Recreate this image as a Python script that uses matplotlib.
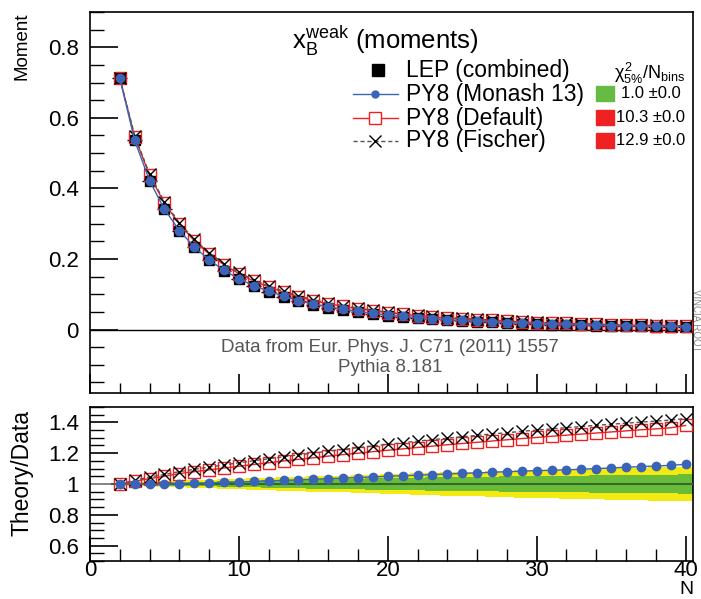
import numpy as np
import matplotlib
matplotlib.use("Agg")
import matplotlib.pyplot as plt
from matplotlib import font_manager
from matplotlib.lines import Line2D
from matplotlib.patches import Rectangle
from matplotlib.ticker import MultipleLocator

# --- data ---
n_vals = list(range(2, 41))

lep_moment = [0.713, 0.537, 0.422, 0.341, 0.280, 0.233, 0.196, 0.166, 0.142, 0.122,
              0.106, 0.092, 0.080, 0.070, 0.062, 0.055, 0.049, 0.044, 0.039, 0.035,
              0.032, 0.029, 0.026, 0.024, 0.022, 0.020, 0.018, 0.017, 0.015, 0.014,
              0.013, 0.012, 0.011, 0.010, 0.0095, 0.0088, 0.0082, 0.0076, 0.0071]

ratio_monash = [1.000, 0.998, 0.999, 1.000, 1.002, 1.004, 1.007, 1.010, 1.013, 1.017,
                1.020, 1.024, 1.027, 1.031, 1.035, 1.038, 1.042, 1.046, 1.050, 1.054,
                1.057, 1.061, 1.065, 1.069, 1.072, 1.076, 1.080, 1.083, 1.087, 1.089,
                1.092, 1.096, 1.100, 1.104, 1.109, 1.113, 1.117, 1.121, 1.128]

ratio_default = [1.000, 1.018, 1.035, 1.050, 1.068, 1.080, 1.092, 1.104, 1.115, 1.127,
                 1.138, 1.150, 1.160, 1.170, 1.181, 1.191, 1.200, 1.210, 1.219, 1.228,
                 1.237, 1.246, 1.255, 1.263, 1.271, 1.279, 1.287, 1.295, 1.302, 1.310,
                 1.317, 1.324, 1.331, 1.338, 1.345, 1.352, 1.358, 1.365, 1.380]

ratio_fischer = [1.000, 1.024, 1.045, 1.062, 1.080, 1.095, 1.110, 1.124, 1.138, 1.151,
                 1.164, 1.177, 1.189, 1.201, 1.213, 1.224, 1.236, 1.247, 1.257, 1.268,
                 1.278, 1.288, 1.297, 1.307, 1.316, 1.325, 1.333, 1.342, 1.350, 1.358,
                 1.366, 1.373, 1.381, 1.388, 1.395, 1.402, 1.408, 1.415, 1.425]

# half widths of the data uncertainty bands (ratio panel)
band_inner = [0.004, 0.006, 0.008, 0.010, 0.012, 0.014, 0.016, 0.018, 0.020, 0.022,
              0.024, 0.026, 0.028, 0.030, 0.031, 0.033, 0.035, 0.037, 0.038, 0.040,
              0.041, 0.043, 0.044, 0.046, 0.047, 0.048, 0.050, 0.051, 0.052, 0.053,
              0.054, 0.055, 0.056, 0.057, 0.058, 0.059, 0.060, 0.061, 0.062]
band_outer = [0.007, 0.011, 0.014, 0.018, 0.021, 0.025, 0.028, 0.031, 0.034, 0.037,
              0.040, 0.043, 0.046, 0.049, 0.052, 0.055, 0.058, 0.061, 0.064, 0.066,
              0.069, 0.072, 0.075, 0.078, 0.080, 0.083, 0.086, 0.088, 0.091, 0.093,
              0.095, 0.098, 0.100, 0.102, 0.104, 0.107, 0.109, 0.111, 0.113]

labels = ["LEP (combined)", "PY8 (Monash 13)", "PY8 (Default)", "PY8 (Fischer)"]
chi2_text = ["1.0 \u00b10.0", "10.3 \u00b10.0", "12.9 \u00b10.0"]
chi2_colors = ["#66bb44", "#ee2222", "#ee2222"]

# --- style ---
names = {f.name for f in font_manager.fontManager.ttflist}
main_font = "Liberation Sans" if "Liberation Sans" in names else "DejaVu Sans"
narrow_font = "Liberation Sans Narrow" if "Liberation Sans Narrow" in names else main_font
plt.rcParams["font.family"] = [main_font, "DejaVu Sans"]
plt.rcParams["mathtext.fontset"] = "custom"
plt.rcParams["mathtext.rm"] = main_font
plt.rcParams["mathtext.it"] = main_font

BLUE = "#3a64b8"
RED = "#ee2020"
GRAY = "#555555"

W, H = 701, 599
fig = plt.figure(figsize=(W / 100, H / 100), dpi=100)


def fx(px):
    return px / W


def fy(py):
    return 1 - py / H


ax1 = fig.add_axes([fx(90), fy(393), fx(693) - fx(90), fy(12) - fy(393)])
ax2 = fig.add_axes([fx(90), fy(561), fx(693) - fx(90), fy(407) - fy(561)])

n = np.array(n_vals)
data = np.array(lep_moment)
mon = data * np.array(ratio_monash)
dft = data * np.array(ratio_default)
fis = data * np.array(ratio_fischer)

# --- top panel ---
ax1.axhline(0, color="black", lw=1.0, zorder=1)
ax1.errorbar(n, data, xerr=0.5, ls="none", marker="s", ms=7, color="black", elinewidth=1.0,
             capsize=0, zorder=3)
ax1.plot(n, dft, color=RED, lw=1.0, marker="s", ms=8, mfc="none", mec=RED, mew=1.0, zorder=4)
ax1.plot(n, fis, color=GRAY, lw=1.0, ls=(0, (3, 2)), marker="x", ms=8, mec="black", mew=1.0, zorder=5)
ax1.plot(n, mon, color=BLUE, lw=1.0, marker="o", ms=6, mfc=BLUE, mec=BLUE, zorder=6)
ax1.set_xlim(0, 40.5)
ax1.set_ylim(-0.18, 0.9)

# --- ratio panel ---
edges_lo = n - 0.5
for i in range(len(n)):
    ax2.fill_between([edges_lo[i], edges_lo[i] + 1], 1 - band_outer[i], 1 + band_outer[i],
                     color="#f2ea10", lw=0, zorder=1)
    ax2.fill_between([edges_lo[i], edges_lo[i] + 1], 1 - band_inner[i], 1 + band_inner[i],
                     color="#6abb3a", lw=0, zorder=2)
ax2.axhline(1, color="#999999", lw=1.2, zorder=2)
ax2.plot([1.5, 40.5], [1, 1], color="#2e6b2a", lw=1.5, zorder=3)
ax2.plot(n, ratio_default, color=RED, lw=1.0, marker="s", ms=8, mfc="none", mec=RED, mew=1.0, zorder=4)
ax2.plot(n, ratio_fischer, color=GRAY, lw=1.0, ls=(0, (3, 2)), marker="x", ms=8, mec="black", mew=1.0, zorder=5)
ax2.plot(n, ratio_monash, color=BLUE, lw=1.0, marker="o", ms=6, mfc=BLUE, mec=BLUE, zorder=6)
ax2.set_xlim(0, 40.5)
ax2.set_ylim(0.5, 1.5)

for ax in (ax1, ax2):
    for s in ax.spines.values():
        s.set_linewidth(1.2)
    ax.xaxis.set_major_locator(MultipleLocator(10))
    ax.xaxis.set_minor_locator(MultipleLocator(2))
    ax.tick_params(which="both", direction="in", top=False, right=False)
    ax.tick_params(which="major", length=14, width=1.2, labelsize=16)
    ax.tick_params(which="minor", length=7, width=1.0)
    ax.tick_params(axis="y", pad=8)

ax1.yaxis.set_minor_locator(MultipleLocator(0.05))
ax1.set_yticks([0, 0.2, 0.4, 0.6, 0.8])
ax1.set_yticklabels(["0", "0.2", "0.4", "0.6", "0.8"])
ax1.tick_params(axis="y", which="major", length=20)
ax1.tick_params(axis="y", which="minor", length=10)
ax1.tick_params(axis="x", labelbottom=False)

ax2.set_yticks([0.6, 0.8, 1.0, 1.2, 1.4])
ax2.set_yticklabels(["0.6", "0.8", "1", "1.2", "1.4"])
ax2.yaxis.set_minor_locator(MultipleLocator(0.05))
ax2.tick_params(axis="y", which="major", length=20)
ax2.tick_params(axis="y", which="minor", length=10)
ax2.tick_params(axis="x", which="major", length=18, pad=-1)
ax2.tick_params(axis="x", which="minor", length=9)

# axis titles
fig.text(fx(22), fy(12), "Moment", rotation=90, ha="center", va="top", fontsize=13.5,
         family=narrow_font)
fig.text(fx(22), fy(410), "Theory/Data", rotation=90, ha="center", va="top", fontsize=16.5,
         family=narrow_font)
fig.text(fx(686), fy(590), "N", ha="center", va="center", fontsize=14)

# title
fig.text(fx(292), fy(41), r"x$_{\rm B}^{\rm weak}$ (moments)", ha="left", va="center", fontsize=18.5)

# legend
leg_y = [70, 94, 118, 141]
fig.add_artist(Line2D([fx(378)], [fy(70)], marker="s", ms=8, color="black", ls="none"))
fig.add_artist(Line2D([fx(353), fx(398)], [fy(94)] * 2, color=BLUE, lw=1.0))
fig.add_artist(Line2D([fx(375)], [fy(94)], marker="o", ms=5, color=BLUE, ls="none"))
fig.add_artist(Line2D([fx(353), fx(398)], [fy(118)] * 2, color=RED, lw=1.0))
fig.add_artist(Line2D([fx(375)], [fy(118)], marker="s", ms=8, mfc="white", mec=RED, ls="none"))
fig.add_artist(Line2D([fx(353), fx(398)], [fy(141)] * 2, color=GRAY, lw=1.0, ls=(0, (3, 2))))
fig.add_artist(Line2D([fx(375)], [fy(141)], marker="x", ms=8, mec="black", mew=1.0, ls="none"))
for lab, yy in zip(labels, leg_y):
    fig.text(fx(406), fy(yy), lab, ha="left", va="center", fontsize=16.5)

fig.text(fx(614), fy(73), r"$\chi^{2}_{5\%}$/N$_{\rm bins}$", ha="left", va="center", fontsize=13)
for txt, col, yy in zip(chi2_text, chi2_colors, leg_y[1:]):
    fig.add_artist(Rectangle((fx(596), fy(yy + 7)), fx(18), fy(0) - fy(15), color=col,
                             transform=fig.transFigure))
    fig.text(fx(651), fy(yy), txt, ha="center", va="center", fontsize=12)

# source notes
fig.text(fx(390), fy(347), "Data from Eur. Phys. J. C71 (2011) 1557", ha="center", va="center",
         fontsize=13.5, color="#555555")
fig.text(fx(390), fy(367), "Pythia 8.181", ha="center", va="center", fontsize=13.5, color="#555555")
fig.text(fx(696), fy(320), "VINCIA ROOT", rotation=270, ha="center", va="center", fontsize=7,
         color="#888888")

fig.savefig("out.png", dpi=100)
